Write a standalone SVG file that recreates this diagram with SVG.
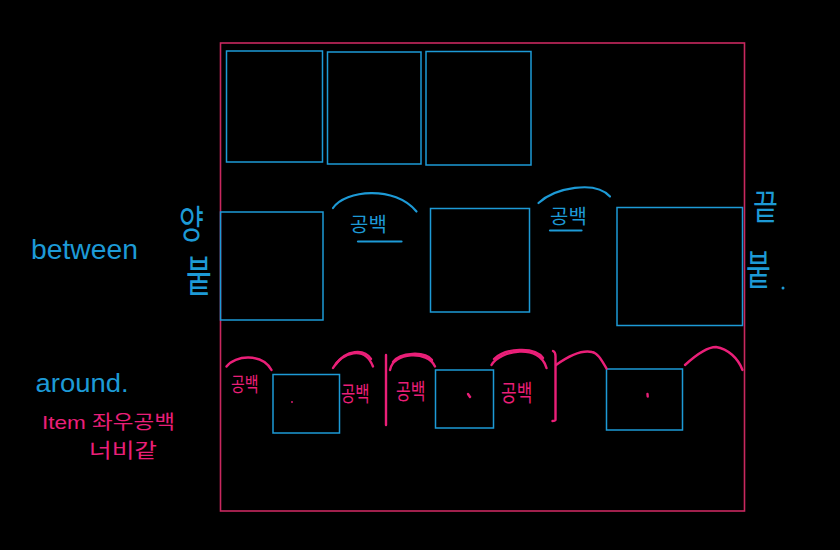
<svg xmlns="http://www.w3.org/2000/svg" width="840" height="550" viewBox="0 0 840 550">
<style>
.box{fill:none;stroke:#1d9ad6;stroke-width:1.5}
.frame{fill:none;stroke:#c9285f;stroke-width:1.6}
.arcb{fill:none;stroke:#1d9ad6;stroke-width:2.2;stroke-linecap:round}
.arcp{fill:none;stroke:#ea1f78;stroke-width:2.4;stroke-linecap:round}
.tb{fill:#1d9ad6;font-family:"Liberation Sans","Noto Sans CJK KR",sans-serif}
.tk{fill:#1d9ad6;font-family:"Noto Sans CJK KR",sans-serif}
.tp{fill:#ea1f78;font-family:"Liberation Sans","Noto Sans CJK KR",sans-serif}
.tpk{fill:#ea1f78;font-family:"Noto Sans CJK KR",sans-serif}
</style>
<rect width="840" height="550" fill="#000"/>
<g id="frame"><rect class="frame" x="220.5" y="43" width="524" height="468"/></g>

<g id="row1-item1"><rect class="box" x="226.5" y="51" width="96" height="111"/></g>
<g id="row1-item2"><rect class="box" x="327.5" y="52" width="93.5" height="112"/></g>
<g id="row1-item3"><rect class="box" x="426" y="51.5" width="105" height="113.5"/></g>

<g id="row2-item1"><rect class="box" x="220.5" y="212" width="102.5" height="108"/></g>
<g id="row2-item2"><rect class="box" x="430.5" y="208.5" width="99" height="103.5"/></g>
<g id="row2-item3"><rect class="box" x="617" y="207.5" width="125.5" height="118"/></g>

<g id="row3-item1"><rect class="box" x="273" y="374.5" width="66.5" height="58.5"/><circle cx="292" cy="402" r="0.9" fill="#ea1f78"/></g>
<g id="row3-item2"><rect class="box" x="435.5" y="370" width="58" height="58"/><path class="arcp" d="M468,394 L470,397" stroke-width="1.2"/></g>
<g id="row3-item3"><rect class="box" x="606.5" y="369" width="76" height="61"/><path class="arcp" d="M647.5,394 L647.7,396.5" stroke-width="1.4"/></g>

<g id="connectors">
  <path class="arcb" d="M333,208 C345,190 395,185 416.5,211.5"/>
  <path class="arcb" d="M358,241.5 L401.5,241.5"/>
  <path class="arcb" d="M538.5,203 C555,188 595,180 610,196.5"/>
  <path class="arcb" d="M550,230.5 L581.5,230.5"/>

  <path class="arcp" d="M226.5,366.5 C235,355 262,353 271.5,370"/>
  <path class="arcp" d="M333,368 C342,352 365,345 373,366.5"/>
  <path class="arcp" d="M336,364 C346,350 364,348 371,359" stroke-width="1.6"/>
  <path class="arcp" d="M386,355 L386,425"/>
  <path class="arcp" d="M390,370 C393,352 428,350 435,366.5"/>
  <path class="arcp" d="M393,362 C400,352 425,351 432,360" stroke-width="1.6"/>
  <path class="arcp" d="M491.5,365 C500,350 540,343 546.5,368"/>
  <path class="arcp" d="M494,359 C505,348 535,346 543,358" stroke-width="1.6"/>
  <path class="arcp" d="M553,351 Q555.5,352 555.5,356 L555.5,420 Q555,421 552.5,421"/>
  <path class="arcp" d="M556,365 C570,355 583,350 592,352 C598,353 602,361 606.5,368.5"/>
  <path class="arcp" d="M685,365 C697,354 707,347 716,347 C728,349 738,358 742.5,370"/>
</g>

<g id="labels">
  <text class="tb" x="31" y="259" font-size="28" textLength="107" lengthAdjust="spacingAndGlyphs">between</text>
  <text class="tb" x="35.5" y="392" font-size="26" textLength="93" lengthAdjust="spacingAndGlyphs">around.</text>
  <text class="tp" x="42" y="429" font-size="19" textLength="133" lengthAdjust="spacingAndGlyphs">Item 좌우공백</text>
  <text class="tpk" x="89" y="458" font-size="20" textLength="68" lengthAdjust="spacingAndGlyphs">너비같</text>

  <text class="tk" transform="translate(179,238) scale(1,1.45)" font-size="27">양</text>
  <text class="tk" transform="translate(186,292) scale(1,1.55)" font-size="28">붙</text>
  <text class="tk" transform="translate(753,220) scale(1,1.3)" font-size="27">끝</text>
  <text class="tk" transform="translate(746,285) scale(1,1.5)" font-size="27">붙</text>
  <circle cx="783" cy="288" r="1.5" fill="#1d9ad6"/>

  <text class="tk" x="350" y="232" font-size="20">공백</text>
  <text class="tk" x="550" y="224" font-size="20">공백</text>

  <text class="tpk" transform="translate(231,392) scale(1,1.35)" font-size="15">공백</text>
  <text class="tpk" transform="translate(341,401) scale(1,1.35)" font-size="15.5">공백</text>
  <text class="tpk" transform="translate(396,399) scale(1,1.35)" font-size="16">공백</text>
  <text class="tpk" transform="translate(501,401) scale(1,1.35)" font-size="17">공백</text>
</g>
</svg>
